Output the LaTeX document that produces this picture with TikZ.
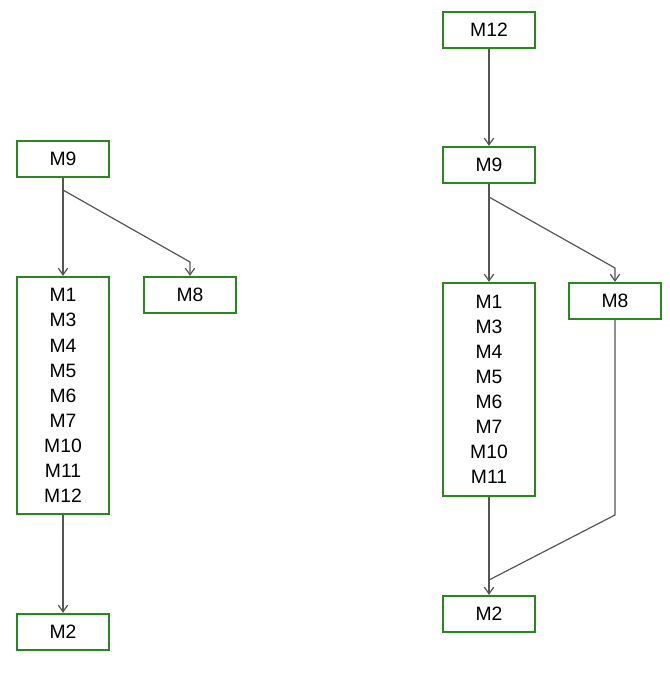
\documentclass[tikz,border=0pt]{standalone}
\usepackage{fontspec}
\setmainfont{Liberation Sans}
\usepackage{tikz}
\usetikzlibrary{arrows.meta}
\usepackage{xcolor}
\definecolor{boxgreen}{RGB}{40,135,30}
\definecolor{linegrey}{RGB}{85,85,85}

\tikzset{
  mbox/.style={draw=boxgreen,line width=1.7pt,fill=white,inner sep=0pt,
    minimum width=69pt,minimum height=27pt,align=center},
  link/.style={linegrey,line width=0.9pt,
    -{Straight Barb[length=5pt,width=7pt]}},
}

\begin{document}
\begin{tikzpicture}[x=0.75pt,y=-0.75pt,font=\fontsize{14.5}{18.8}\selectfont]
    \useasboundingbox (0,0) rectangle (669,679);

    % Left ordering
    \node[mbox] (lm9) at (63,159) {M9};
    \node[mbox,minimum height=177.75pt] (lgrp) at (63,395.5)
      {M1\\M3\\M4\\M5\\M6\\M7\\M10\\M11\\M12};
    \node[mbox] (lm8) at (190,295) {M8};
    \node[mbox] (lm2) at (63,632) {M2};
    \coordinate (lsplit) at (63,190);
    \coordinate (lbend) at (190,262);

    \draw[link] (lm9.south) -- (lgrp.north);
    \draw[link] (lsplit) -- (lbend) -- (lm8.north);
    \draw[link] (lgrp.south) -- (lm2.north);

    % Right ordering
    \node[mbox] (rm12) at (489,30) {M12};
    \node[mbox] (rm9) at (489,165) {M9};
    \node[mbox,minimum height=159.75pt] (rgrp) at (489,389.5)
      {M1\\M3\\M4\\M5\\M6\\M7\\M10\\M11};
    \node[mbox] (rm8) at (615,301) {M8};
    \node[mbox] (rm2) at (489,614) {M2};
    \coordinate (rsplit) at (489,197);
    \coordinate (rbend) at (615,268);
    \coordinate (rdrop) at (615,515);
    \coordinate (rjoin) at (489,580);

    \draw[link] (rm12.south) -- (rm9.north);
    \draw[link] (rm9.south) -- (rgrp.north);
    \draw[link] (rsplit) -- (rbend) -- (rm8.north);
    \draw[link] (rgrp.south) -- (rm2.north);
    \draw[link,-] (rm8.south) -- (rdrop) -- (rjoin);
  \end{tikzpicture}
\end{document}
